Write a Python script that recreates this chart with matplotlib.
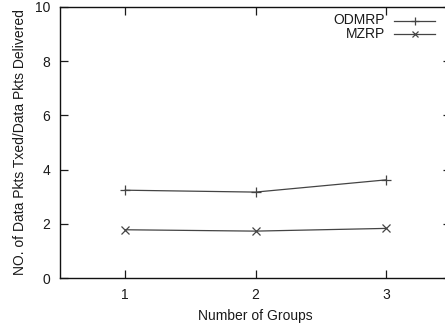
import matplotlib
matplotlib.use("Agg")
import matplotlib.pyplot as plt
from matplotlib import font_manager

groups = [1, 2, 3]
series_names = ["ODMRP", "MZRP"]
odmrp = [3.24, 3.17, 3.62]
mzrp = [1.78, 1.73, 1.83]
xticks = [1, 2, 3]
yticks = [0, 2, 4, 6, 8, 10]

names = {f.name for f in font_manager.fontManager.ttflist}
fam = 'Liberation Sans Narrow' if 'Liberation Sans Narrow' in names else 'Liberation Sans'
plt.rcParams['font.family'] = [fam, 'DejaVu Sans']
fs = 11.5 if fam == 'Liberation Sans Narrow' else 10

fig = plt.figure(figsize=(4.45, 3.29), dpi=100)
W, H = 445, 329
left, right, top, bottom = 60, 451, 7, 278
ax = fig.add_axes([left / W, 1 - bottom / H, (right - left) / W, (bottom - top) / H])

lc = '#444444'
tc = '#1a1a1a'
ax.plot(groups, odmrp, color=lc, lw=0.9, marker='+', ms=7, mew=0.9, clip_on=False)
ax.plot(groups, mzrp, color=lc, lw=0.9, marker='x', ms=5.5, mew=0.9, clip_on=False)

ax.set_xlim(0.5, 3.5)
ax.set_ylim(0, 10)
ax.set_xticks(xticks)
ax.set_yticks(yticks)
ax.tick_params(direction='in', length=6, width=0.9, top=True, right=True,
               labelsize=fs, colors=tc, pad=7)
for s in ax.spines.values():
    s.set_linewidth(1.0)
    s.set_color('#111111')

ax.set_xlabel("Number of Groups", fontsize=fs, labelpad=5, color=tc)
ax.set_ylabel("NO. of Data Pkts Txed/Data Pkts Delivered", fontsize=11.8 if fs == 11.5 else fs,
              labelpad=6, color=tc)

# gnuplot-style key: right-aligned labels with line samples
markers = ['+', 'x']
msz = [6, 5]
for i, name in enumerate(series_names):
    yk = 1 - (20.5 + 13.5 * i - top) / (bottom - top)
    x_text = (385 - left) / (right - left)
    x0 = (394 - left) / (right - left)
    x1 = (435 - left) / (right - left)
    ax.text(x_text, yk, name, transform=ax.transAxes, ha='right', va='center',
            fontsize=fs, color=tc)
    ax.plot([x0, x1], [yk, yk], transform=ax.transAxes, color=lc, lw=0.9, clip_on=False)
    ax.plot([(x0 + x1) / 2], [yk], transform=ax.transAxes, color=lc, marker=markers[i],
            ms=msz[i], mew=0.9, clip_on=False)

fig.savefig("out.png", dpi=100)
